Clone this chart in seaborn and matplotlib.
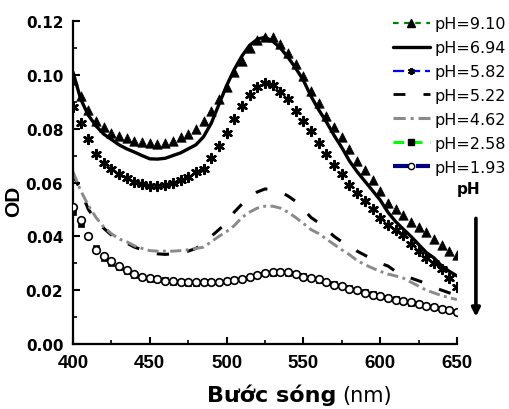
import numpy as np
import pandas as pd
import matplotlib
matplotlib.use("Agg")
import matplotlib.pyplot as plt
from matplotlib.lines import Line2D
from matplotlib.ticker import MultipleLocator, FormatStrFormatter
import seaborn as sns

# Absorbance spectra (OD) recorded every 5 nm from 400 to 650 nm
wavelength = np.arange(400, 655, 5)

od_ph_910 = [0.098, 0.092, 0.087, 0.083, 0.0805, 0.0785, 0.0772, 0.0765, 0.0755, 0.075,
             0.0745, 0.0742, 0.0745, 0.0755, 0.077, 0.078, 0.080, 0.083, 0.0866, 0.091,
             0.0955, 0.101, 0.105, 0.110, 0.113, 0.1142, 0.1142, 0.1114, 0.108, 0.104,
             0.0995, 0.094, 0.0895, 0.0848, 0.0805, 0.077, 0.0724, 0.068, 0.0645, 0.061,
             0.057, 0.0525, 0.050, 0.048, 0.0455, 0.0435, 0.0415, 0.039, 0.0367, 0.0345,
             0.033]
od_ph_694 = [0.101, 0.091, 0.085, 0.081, 0.078, 0.076, 0.074, 0.0725, 0.0713, 0.070,
             0.0688, 0.0687, 0.069, 0.070, 0.071, 0.0725, 0.074, 0.077, 0.082, 0.089,
             0.096, 0.102, 0.107, 0.111, 0.1132, 0.114, 0.1125, 0.110, 0.1065, 0.1025,
             0.098, 0.092, 0.087, 0.0825, 0.0775, 0.073, 0.068, 0.064, 0.0605, 0.057,
             0.0535, 0.049, 0.0455, 0.0427, 0.040, 0.037, 0.034, 0.032, 0.029, 0.027,
             0.0253]
od_ph_582 = [0.088, 0.082, 0.076, 0.0705, 0.0672, 0.065, 0.0632, 0.0615, 0.0603, 0.0595,
             0.0588, 0.0586, 0.059, 0.060, 0.0608, 0.062, 0.0638, 0.065, 0.069, 0.0735,
             0.0785, 0.0835, 0.0885, 0.0925, 0.0955, 0.097, 0.0962, 0.0936, 0.091, 0.0866,
             0.083, 0.079, 0.0747, 0.0706, 0.0665, 0.063, 0.059, 0.056, 0.053, 0.050,
             0.0468, 0.0443, 0.0422, 0.0405, 0.037, 0.0345, 0.032, 0.030, 0.028, 0.0245,
             0.021]
od_ph_522 = [0.063, 0.057, 0.050, 0.046, 0.043, 0.0405, 0.039, 0.0375, 0.036, 0.035,
             0.034, 0.0335, 0.0333, 0.0335, 0.034, 0.0345, 0.0355, 0.0375, 0.040, 0.0425,
             0.045, 0.049, 0.052, 0.0545, 0.0565, 0.0576, 0.0575, 0.0565, 0.055, 0.053,
             0.050, 0.047, 0.045, 0.0425, 0.040, 0.038, 0.0365, 0.0345, 0.033, 0.0315,
             0.030, 0.029, 0.027, 0.0255, 0.0245, 0.0235, 0.0225, 0.021, 0.020, 0.019,
             0.018]
od_ph_462 = [0.064, 0.057, 0.0515, 0.047, 0.0435, 0.041, 0.039, 0.038, 0.0365, 0.0355,
             0.0347, 0.0345, 0.0345, 0.0345, 0.0347, 0.035, 0.0355, 0.036, 0.038, 0.040,
             0.0418, 0.044, 0.047, 0.049, 0.0505, 0.0512, 0.0512, 0.0505, 0.049, 0.047,
             0.0448, 0.0425, 0.041, 0.039, 0.037, 0.035, 0.0332, 0.031, 0.0295, 0.0282,
             0.027, 0.026, 0.0253, 0.0245, 0.023, 0.0215, 0.020, 0.019, 0.018, 0.0172,
             0.0165]
od_ph_258 = [0.049, 0.0445, 0.040, 0.0355, 0.032, 0.030, 0.0285, 0.027, 0.0258, 0.025,
             0.0243, 0.024, 0.0236, 0.0232, 0.023, 0.0228, 0.0228, 0.0229, 0.023, 0.0232,
             0.0235, 0.0238, 0.0243, 0.025, 0.0257, 0.0262, 0.0265, 0.0266, 0.0265, 0.026,
             0.0252, 0.0245, 0.0238, 0.023, 0.0222, 0.0215, 0.0207, 0.020, 0.0192, 0.0185,
             0.0178, 0.0172, 0.0166, 0.016, 0.0154, 0.0148, 0.0142, 0.0136, 0.013, 0.0125,
             0.012]
od_ph_193 = [0.051, 0.046, 0.040, 0.035, 0.0327, 0.031, 0.029, 0.0275, 0.026, 0.025,
             0.0245, 0.024, 0.0235, 0.0233, 0.0232, 0.023, 0.023, 0.023, 0.023, 0.0232,
             0.0234, 0.0236, 0.024, 0.025, 0.0258, 0.0263, 0.0266, 0.0267, 0.0266, 0.026,
             0.025, 0.0245, 0.024, 0.023, 0.022, 0.0215, 0.0205, 0.020, 0.019, 0.0183,
             0.0178, 0.0172, 0.0165, 0.016, 0.0155, 0.015, 0.0143, 0.0137, 0.013, 0.0125,
             0.012]

ph_labels = ["pH=9.10", "pH=6.94", "pH=5.82", "pH=5.22", "pH=4.62", "pH=2.58", "pH=1.93"]

df = pd.DataFrame({
    "wl": wavelength,
    "pH=9.10": od_ph_910, "pH=6.94": od_ph_694, "pH=5.82": od_ph_582,
    "pH=5.22": od_ph_522, "pH=4.62": od_ph_462, "pH=2.58": od_ph_258,
    "pH=1.93": od_ph_193,
})

sns.set_style("white")
plt.rcParams["font.family"] = ["DejaVu Sans"]
plt.rcParams.update({"text.color": "black", "axes.labelcolor": "black",
                     "xtick.color": "black", "ytick.color": "black"})

fig = plt.figure(figsize=(5.09, 4.10), dpi=100)
ax = fig.add_axes([0.1434, 0.1585, 0.7544, 0.7878])

black = "#000000"
gray = "#8a8a8a"

# Smooth line spectra
sns.lineplot(data=df, x="wl", y="pH=6.94", ax=ax, color=black, lw=2.4)
sns.lineplot(data=df, x="wl", y="pH=5.22", ax=ax, color=black, lw=2.2,
             linestyle=(0, (4.0, 6.0)))
sns.lineplot(data=df, x="wl", y="pH=4.62", ax=ax, color=gray, lw=2.1,
             linestyle=(0, (3.8, 1.5, 1.0, 1.5)))

# Marker spectra
sns.scatterplot(data=df, x="wl", y="pH=9.10", ax=ax, marker="^", s=46,
                color=black, edgecolor=black, linewidth=0.5, zorder=4)
sns.scatterplot(data=df, x="wl", y="pH=5.82", ax=ax, marker=(6, 2, 0), s=40,
                color=black, edgecolor=black, linewidth=1.8, zorder=4)
sns.scatterplot(data=df, x="wl", y="pH=2.58", ax=ax, marker="s", s=24,
                color=black, edgecolor=black, linewidth=0.5, zorder=4)
sns.scatterplot(data=df, x="wl", y="pH=1.93", ax=ax, marker="o", s=30,
                facecolor="white", edgecolor=black, linewidth=1.2, zorder=5)

ax.set_xlim(400, 650)
ax.set_ylim(0, 0.12)
ax.xaxis.set_major_locator(MultipleLocator(50))
ax.xaxis.set_minor_locator(MultipleLocator(25))
ax.yaxis.set_major_locator(MultipleLocator(0.02))
ax.yaxis.set_minor_locator(MultipleLocator(0.01))
ax.yaxis.set_major_formatter(FormatStrFormatter("%.2f"))

for side in ("top", "right"):
    ax.spines[side].set_visible(False)
for side in ("left", "bottom"):
    ax.spines[side].set_linewidth(1.6)
    ax.spines[side].set_color(black)

ax.tick_params(which="major", direction="in", length=5, width=1.5, color=black)
ax.tick_params(which="minor", direction="in", length=3, width=1.2, color=black)
ax.tick_params(axis="y", which="both", left=True, pad=7, labelcolor=black)
ax.tick_params(axis="x", which="both", bottom=True, pad=7, labelcolor=black)
for lab in ax.get_yticklabels():
    lab.set_fontweight("bold")
    lab.set_fontsize(11)
for lab in ax.get_xticklabels():
    lab.set_family(["Liberation Sans"])
    lab.set_fontweight("bold")
    lab.set_fontsize(13.5)

ax.set_xlabel("")
ax.set_ylabel("")

# Axis titles
fig.text(0.026, 0.51, "OD", rotation=90, ha="center", va="center", fontsize=15,
         fontweight="bold", family=["Liberation Sans"], color=black)
fig.text(0.660, 0.020, "Bước sóng", ha="right", va="baseline", fontsize=16,
         fontweight="bold", family=["DejaVu Sans"], color=black)
fig.text(0.672, 0.020, "(nm)", ha="left", va="baseline", fontsize=15,
         family=["DejaVu Sans"], color=black)

# Legend with coloured dashed keys
handles = [
    Line2D([], [], color="#008000", lw=1.6, ls=(0, (2.5, 2.5)), marker="^",
           mfc=black, mec=black, ms=6),
    Line2D([], [], color=black, lw=2.4),
    Line2D([], [], color="#0000ff", lw=1.6, ls=(0, (5, 2.2)), marker=(6, 2, 0),
           mfc=black, mec=black, ms=5, mew=1.4),
    Line2D([], [], color=black, lw=2.0, ls=(0, (4.3, 6.5))),
    Line2D([], [], color=gray, lw=2.2, ls=(0, (4.0, 1.6, 1.0, 1.6))),
    Line2D([], [], color="#00ff00", lw=2.2, ls=(0, (3.5, 2.5)), marker="s",
           mfc=black, mec=black, ms=4),
    Line2D([], [], color="#000080", lw=3.0, ls=(0, (4.0, 1.5)), marker="o",
           mfc="white", mec=black, ms=4.5, mew=1.0),
]
leg = fig.legend(handles, ph_labels, loc="upper left", bbox_to_anchor=(0.772, 0.958),
                 frameon=False, fontsize=11.5, handlelength=2.3, handletextpad=0.3,
                 labelspacing=0.56, borderpad=0, borderaxespad=0, numpoints=1)
for t in leg.get_texts():
    t.set_color(black)

# Direction of decreasing pH
fig.text(0.921, 0.539, "pH", ha="center", va="center", fontsize=11,
         fontweight="bold", color=black)
ax.annotate("", xy=(0.935, 0.225), xytext=(0.935, 0.465),
            xycoords="figure fraction", textcoords="figure fraction",
            arrowprops=dict(arrowstyle="-|>", color=black, lw=2.6,
                            mutation_scale=12, shrinkA=0, shrinkB=0))

fig.savefig("out.png", dpi=100)
